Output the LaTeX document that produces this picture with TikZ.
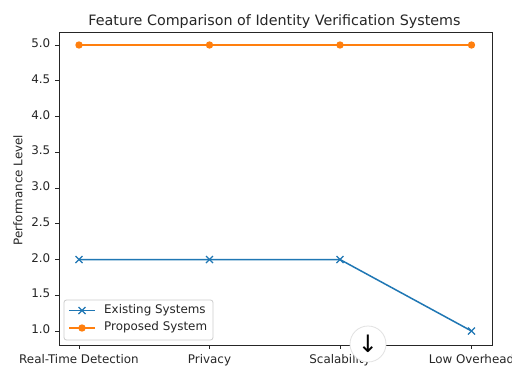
\documentclass[tikz,border=0pt]{standalone}
\usepackage{fontspec}
\setmainfont{DejaVu Sans}
\definecolor{tabblue}{HTML}{1F77B4}
\definecolor{taborange}{HTML}{FF7F0E}
\definecolor{txt}{HTML}{262626}
\definecolor{legedge}{HTML}{CCCCCC}
\definecolor{circedge}{HTML}{E2E2E2}
\begin{document}
\begin{tikzpicture}[x=1pt,y=-1pt,
  ticklab/.style={font=\fontsize{11.9}{13}\selectfont,text=txt,inner sep=0pt},
  ytl/.style={ticklab,anchor=mid east},
  xtl/.style={ticklab,anchor=base},
  exline/.style={tabblue,line width=1.5pt},
  prline/.style={taborange,line width=1.5pt},
  xmark/.style={tabblue,line width=1.1pt},
  omark/.style={circle,fill=taborange,inner sep=0pt,minimum size=7.4pt},
  tick/.style={line width=0.8pt,txt},
  legbox/.style={draw=legedge,fill=white,fill opacity=0.8,rounded corners=2.5pt,line width=0.8pt}
]
\useasboundingbox (0,0) rectangle (512,365);
\clip (0,0) rectangle (512,365);
\fill[white] (0,0) rectangle (512,365);

% title
\node[font=\fontsize{14.3}{16}\selectfont,text=txt,anchor=base,inner sep=0pt] (title) at (274.5,25) {Feature Comparison of Identity Verification Systems};
% y label
\node[ticklab,rotate=90,anchor=center] (ylab) at (18,190) {Performance Level};

% y ticks
\foreach \y/\lab in {331/1.0,295.25/1.5,259.5/2.0,223.75/2.5,188/3.0,152.25/3.5,116.5/4.0,80.75/4.5,45/5.0}{
  \draw[tick] (59,\y) -- (55,\y);
  \node[ytl] at (50.5,\y) {\lab};
}
% x ticks
\foreach \x/\lab in {79/Real-Time Detection,209.5/Privacy,340/Scalability,471.5/Low Overhead}{
  \draw[tick] (\x,345) -- (\x,349);
  \node[xtl] at (\x,363) {\lab};
}

% data points
\coordinate (e1) at (79,259.5);
\coordinate (e2) at (209.5,259.5);
\coordinate (e3) at (340,259.5);
\coordinate (e4) at (471.5,331);
\coordinate (p1) at (79,45);
\coordinate (p2) at (209.5,45);
\coordinate (p3) at (340,45);
\coordinate (p4) at (471.5,45);

\draw[exline] (e1) -- (e2) -- (e3) -- (e4);
\foreach \p in {e1,e2,e3,e4}{
  \draw[xmark] ([shift={(-3.5,-3.5)}]\p) -- ([shift={(3.5,3.5)}]\p);
  \draw[xmark] ([shift={(-3.5,3.5)}]\p) -- ([shift={(3.5,-3.5)}]\p);
}
\draw[prline] (p1) -- (p2) -- (p3) -- (p4);
\foreach \p in {p1,p2,p3,p4}{
  \node[omark] at (\p) {};
}

% frame
\draw[line width=0.9pt,txt] (59,32) rectangle (492,345);

% legend
\draw[legbox] (64,300) rectangle (213,340);
\coordinate (la1) at (69,310.5);
\coordinate (lb1) at (95,310.5);
\coordinate (la2) at (69,328);
\coordinate (lb2) at (95,328);
\draw[exline] (la1) -- (lb1);
\coordinate (lm1) at (82,310.5);
\draw[xmark] ([shift={(-3.5,-3.5)}]lm1) -- ([shift={(3.5,3.5)}]lm1);
\draw[xmark] ([shift={(-3.5,3.5)}]lm1) -- ([shift={(3.5,-3.5)}]lm1);
\draw[prline] (la2) -- (lb2);
\node[omark] (lm2) at (82,328) {};
\node[ticklab,anchor=mid west] (lt1) at (104,310.5) {Existing Systems};
\node[ticklab,anchor=mid west] (lt2) at (104,328) {Proposed System};

% scroll button overlay
\node[circle,draw=circedge,fill=white,line width=0.8pt,minimum size=36pt,inner sep=0pt] (btn) at (368,344) {};
\node[font=\fontsize{24}{25}\selectfont,text=black,inner sep=0pt] (arr) at (368,343.5) {↓};
\end{tikzpicture}
\end{document}
